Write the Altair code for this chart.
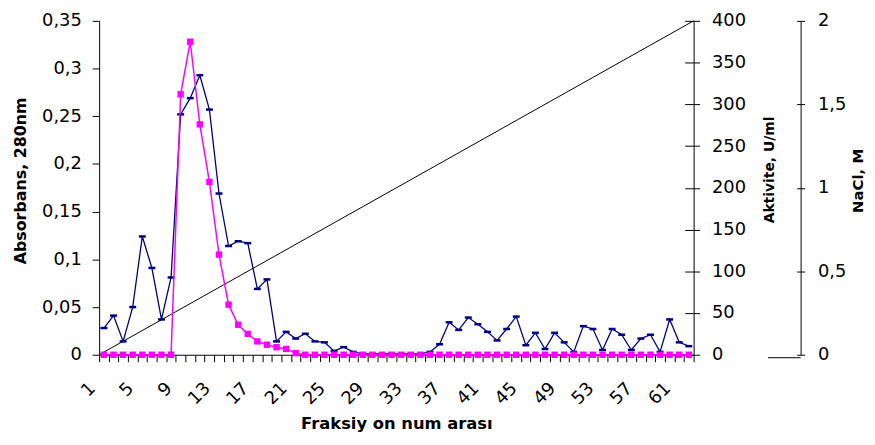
import altair as alt
import pandas as pd

# ---- data ----
fractions = list(range(1, 63))
absorbance = [0.028, 0.041, 0.014, 0.050, 0.124, 0.091, 0.037, 0.081, 0.252, 0.269,
              0.293, 0.257, 0.169, 0.114, 0.119, 0.117, 0.069, 0.079, 0.014, 0.024,
              0.017, 0.022, 0.014, 0.013, 0.004, 0.008, 0.003, 0.001, 0.001, 0.001,
              0.001, 0.001, 0.001, 0.001, 0.003, 0.011, 0.034, 0.026, 0.039, 0.032,
              0.024, 0.015, 0.027, 0.040, 0.010, 0.023, 0.006, 0.023, 0.013, 0.003,
              0.030, 0.027, 0.005, 0.027, 0.021, 0.005, 0.017, 0.021, 0.003, 0.037,
              0.013, 0.009]
activity = [0, 0, 0, 0, 0, 0, 0, 0, 312, 375,
            276, 207, 120, 60, 36, 25, 16, 12, 9, 7,
            2, 0, 0, 0, 0, 0, 0, 0, 0, 0,
            0, 0, 0, 0, 0, 0, 0, 0, 0, 0,
            0, 0, 0, 0, 0, 0, 0, 0, 0, 0,
            0, 0, 0, 0, 0, 0, 0, 0, 0, 0,
            0, 0]
nacl_fraction = [0.5, 62.5]
nacl_molar = [0.0, 2.0]

x_labels = [1, 5, 9, 13, 17, 21, 25, 29, 33, 37, 41, 45, 49, 53, 57, 61]
abs_ticks = [0, 0.05, 0.1, 0.15, 0.2, 0.25, 0.3, 0.35]
act_ticks = [0, 50, 100, 150, 200, 250, 300, 350, 400]
nacl_ticks = [0, 0.5, 1, 1.5, 2]

df = pd.DataFrame({"fraction": fractions, "absorbance": absorbance, "activity": activity})
nacl_df = pd.DataFrame({"fraction": nacl_fraction, "nacl": nacl_molar})

W, H = 600, 337
n = len(fractions)
boundaries = [i + 0.5 for i in range(0, n + 1)]
label_list = ",".join(str(v) for v in x_labels)
label_expr = f"indexof([{label_list}], datum.value + 0.5) >= 0 ? toString(datum.value + 0.5) : ''"
comma_expr = "replace(toString(datum.value), '.', ',')"

FONT = "DejaVu Sans"

x_enc = alt.X(
    "fraction:Q",
    scale=alt.Scale(domain=[0.5, 62.5], nice=False, zero=False),
    axis=alt.Axis(
        values=boundaries, labelExpr=label_expr, labelOverlap=False, labelFlush=False,
        labelAngle=315, labelAlign="right", labelBaseline="middle",
        labelOffset=-7, labelPadding=24, tickSize=7, grid=False,
        title="Fraksiy on num arası", titleFontSize=16.5, titleFontWeight="bold",
        titleX=300, titleY=74, titleAlign="center", titleBaseline="alphabetic",
    ),
)

dash = "M-1,-0.36L1,-0.36L1,0.36L-1,0.36Z"

blue = alt.Chart(df).mark_line(
    color="#000080", strokeWidth=1.3,
    point=alt.OverlayMarkDef(shape=dash, size=49, filled=True, color="#000080", opacity=1),
).encode(
    x=x_enc,
    y=alt.Y("absorbance:Q", scale=alt.Scale(domain=[0, 0.35], nice=False),
            axis=alt.Axis(orient="left", values=abs_ticks, labelExpr=comma_expr,
                          tickSize=7, labelPadding=11, grid=False,
                          title="Absorbans, 280nm", titleFontSize=16, titleFontWeight="bold",
                          titleAngle=270, titleX=-79.5, titleY=161,
                          titleAlign="center", titleBaseline="middle")),
)

pink = alt.Chart(df).mark_line(
    color="#FF00FF", strokeWidth=1.5,
    point=alt.OverlayMarkDef(shape="square", size=42, filled=True, color="#FF00FF", opacity=1),
).encode(
    x=x_enc,
    y=alt.Y("activity:Q", scale=alt.Scale(domain=[0, 400], nice=False),
            axis=alt.Axis(orient="right", values=act_ticks, tickSize=6, labelPadding=12,
                          grid=False, title="Aktivite, U/ml", titleFontSize=14,
                          titleFontWeight="bold", titleAngle=270, titleX=77, titleY=150,
                          titleAlign="center", titleBaseline="middle")),
)

pink_inner = alt.Chart(df).mark_line(opacity=0).encode(
    x=x_enc,
    y=alt.Y("activity:Q", scale=alt.Scale(domain=[0, 400], nice=False),
            axis=alt.Axis(orient="left", offset=-W, values=act_ticks, tickSize=9,
                          labels=False, domain=False, grid=False, title=None)),
)

nacl = alt.Chart(nacl_df).mark_line(color="black", strokeWidth=1).encode(
    x=x_enc,
    y=alt.Y("nacl:Q", scale=alt.Scale(domain=[0, 2], nice=False),
            axis=alt.Axis(orient="right", offset=108, values=nacl_ticks, labelExpr=comma_expr,
                          tickSize=4, labelPadding=13, grid=False,
                          title="NaCl, M", titleFontSize=15, titleFontWeight="bold",
                          titleAngle=270, titleX=57, titleY=161,
                          titleAlign="center", titleBaseline="middle")),
)

nacl_inner = alt.Chart(nacl_df).mark_line(opacity=0).encode(
    x=x_enc,
    y=alt.Y("nacl:Q", scale=alt.Scale(domain=[0, 2], nice=False),
            axis=alt.Axis(orient="left", offset=-(W + 108), values=nacl_ticks, tickSize=4,
                          labels=False, domain=False, grid=False, title=None)),
)

floor = alt.Chart(pd.DataFrame({"k": [0]})).mark_rule(color="black", strokeWidth=1).encode(
    x=alt.value(W + 75), x2=alt.value(W + 108), y=alt.value(H + 3)
)

chart = alt.layer(nacl, blue, pink, pink_inner, nacl_inner, floor).resolve_scale(
    y="independent"
).properties(
    width=W, height=H,
    padding={"left": 92, "top": 11, "right": 175, "bottom": 77},
    autosize=alt.AutoSizeParams(type="none"),
    background="white",
).configure_view(stroke=None).configure_axis(
    domainColor="black", tickColor="black", labelColor="black", titleColor="black",
    labelFont=FONT, titleFont=FONT, labelFontSize=18, domainWidth=1, tickWidth=1,
)

chart.save("out.html", embed_options={"renderer": "svg", "actions": False})
